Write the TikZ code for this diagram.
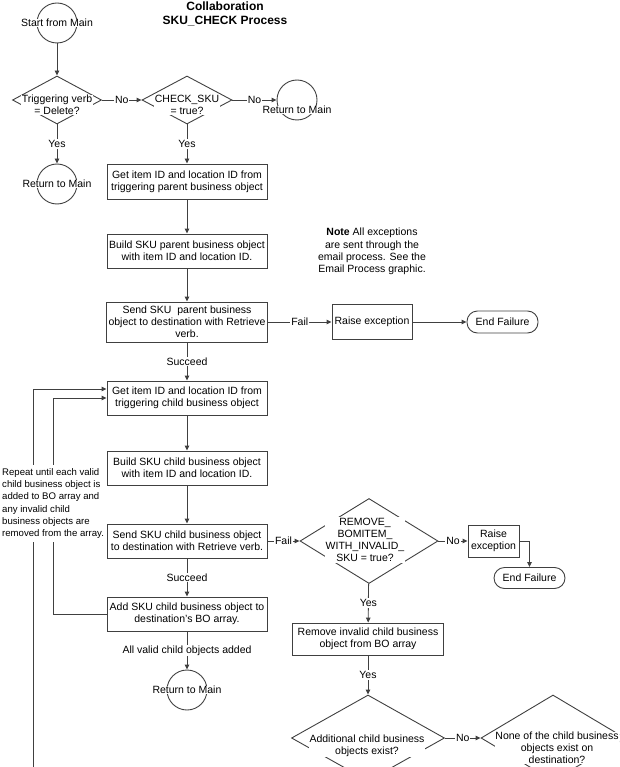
\documentclass[tikz,border=0pt]{standalone}
\usepackage{fontspec}
\setmainfont{Liberation Sans}
\usetikzlibrary{arrows.meta,shapes.geometric}

\begin{document}
\begin{tikzpicture}[x=1pt, y=-1pt, >={Triangle[length=5pt,width=4.5pt]},
  font=\fontsize{10.5}{12.2}\selectfont,
  line/.style={draw=black!75, line width=0.9pt},
  flow/.style={line, ->},
  proc/.style={line, rectangle, fill=white, align=center, minimum width=160, minimum height=34, inner sep=2pt},
  term/.style={line, rectangle, rounded corners=10.5, minimum width=71, minimum height=22, inner sep=1pt},
  dia/.style={line, diamond, inner sep=0pt},
  dtext/.style={fill=white, align=center, inner sep=0.5pt},
  conn/.style={line, circle, minimum size=40, inner sep=0pt},
  ctext/.style={fill=white, inner sep=0.5pt},
  lbl/.style={midway, fill=white, inner sep=1pt}]
  \useasboundingbox (0,0) rectangle (619,767);
  \clip (0,0) rectangle (619,767);

  % Title
  \node[font=\fontsize{12}{14}\selectfont\bfseries, align=center] (title) at (225,14) {Collaboration\\SKU\_CHECK Process};

  % Top row: start and the two checks
  \node[conn] (start) at (57,23) {};
  \node[ctext] (startt) at (start) {Start from Main};
  \node[dia, minimum width=89, minimum height=48] (verb) at (57,100) {};
  \node[dtext] (verbt) at (57,105) {Triggering verb\\= Delete?};
  \node[conn] (ret0) at (57,184) {};
  \node[ctext] (ret0t) at (ret0) {Return to Main};
  \node[dia, minimum width=90, minimum height=48] (chk) at (187,100) {};
  \node[dtext] (chkt) at (187,104.5) {CHECK\_SKU\\= true?};
  \node[conn] (ret1) at (297,100) {};
  \node[ctext] (ret1t) at (297,110) {Return to Main};
  \draw[flow] (start) -- (verb);
  \draw[flow] (verb) -- node[lbl] {Yes} (ret0);
  \draw[flow] (verb) -- node[lbl] {No} (chk);
  \draw[flow] (chk) -- node[lbl] {No} (ret1);

  % Parent business object
  \node[proc, minimum height=35] (getp) at (187,181.5) {Get item ID and location ID from\\triggering parent business object};
  \node[proc] (buildp) at (187,251) {Build SKU parent business object\\with item ID and location ID.};
  \node[proc, minimum height=40] (sendp) at (187,322) {Send SKU\ \ parent business\\object to destination with Retrieve\\verb.};
  \node[proc, minimum width=80, minimum height=35] (raisep) at (372,322) {Raise exception};
  \node[term] (endp) at (502.5,322) {End Failure};
  \node[align=center] (note) at (372,251.5) {\textbf{Note} All exceptions\\are sent through the\\email process. See the\\Email Process graphic.};
  \draw[flow] (chk) -- node[lbl] {Yes} (getp);
  \draw[flow] (getp) -- (buildp);
  \draw[flow] (buildp) -- (sendp);
  \draw[flow] (sendp) -- node[lbl] {Fail} (raisep);
  \draw[flow] (raisep) -- (endp);

  % Child business objects
  \node[proc] (getc) at (187,398) {Get item ID and location ID from\\triggering child business object};
  \node[proc] (buildc) at (187,468) {Build SKU child business object\\with item ID and location ID.};
  \node[proc] (sendc) at (187,541) {Send SKU child business object\\to destination with Retrieve verb.};
  \node[proc] (addc) at (187,614) {Add SKU child business object to\\destination's BO array.};
  \node[conn] (ret2) at (187,690) {};
  \node[ctext] (ret2t) at (ret2) {Return to Main};
  \draw[flow] (sendp) -- node[lbl] {Succeed} (getc);
  \draw[flow] (getc) -- (buildc);
  \draw[flow] (buildc) -- (sendc);
  \draw[flow] (sendc) -- node[lbl] {Succeed} (addc);
  \draw[flow] (addc) -- node[lbl] {All valid child objects added} (ret2);

  % Repeat loops
  \coordinate (loopout) at (33,790);
  \coordinate (loopin) at (53,614);
  \draw[flow] (loopout) |- ([yshift=9]getc.west);
  \draw[flow] (addc.west) -- (loopin) |- (getc.west);
  \node[fill=white, align=left, font=\fontsize{9.6}{12.2}\selectfont, inner xsep=1pt, inner ysep=4pt, anchor=west] (repeat) at (1,503.5) {Repeat until each valid\\child business object is\\added to BO array and\\any invalid child\\business objects are\\removed from the array.};

  % Invalid child objects
  \node[dia, minimum width=138, minimum height=85] (rmv) at (369,541) {};
  \node[dtext] (rmvt) at (365,540) {REMOVE\_\\BOMITEM\_\\WITH\_INVALID\_\\SKU = true?};
  \node[proc, minimum width=51, minimum height=32] (raisec) at (493.5,541) {Raise\\exception};
  \node[term, minimum height=21] (endc) at (529.5,578) {End Failure};
  \node[proc, minimum width=151, minimum height=32] (rmbo) at (368,639) {Remove invalid child business\\object from BO array};
  \node[dia, minimum width=153, minimum height=86] (more) at (368,738) {};
  \node[dtext] (moret) at (367,745.5) {Additional child business\\objects exist?};
  \node[dia, minimum width=144, minimum height=86] (none) at (553,738) {};
  \node[dtext, inner sep=0pt, font=\fontsize{10.5}{12}\selectfont] (nonet) at (557,748) {None of the child business\\objects exist on\\destination?};
  \draw[flow] (sendc) -- node[lbl] {Fail} (rmv);
  \draw[flow] (rmv) -- node[lbl] {No} (raisec);
  \draw[flow] (raisec.east) -| (endc.north);
  \draw[flow] (rmv) -- node[lbl] {Yes} (rmbo);
  \draw[flow] (rmbo) -- node[lbl] {Yes} (more);
  \draw[flow] (more) -- node[lbl] {No} (none);
\end{tikzpicture}
\end{document}
